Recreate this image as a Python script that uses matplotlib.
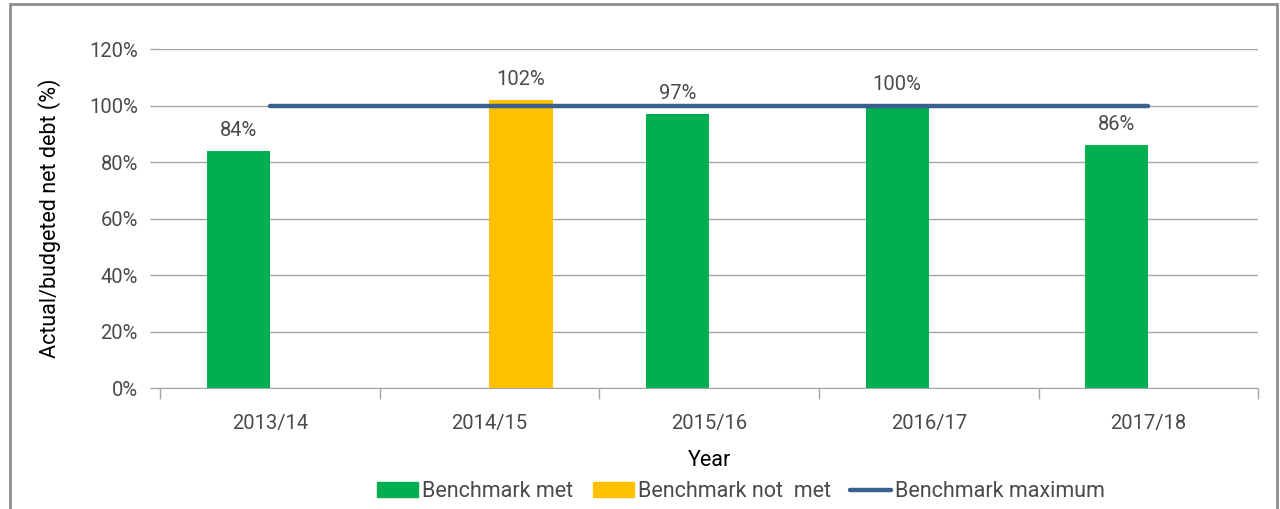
import matplotlib
matplotlib.use("Agg")
import matplotlib.pyplot as plt
import numpy as np
from matplotlib.patches import Rectangle, Patch
from matplotlib.lines import Line2D

plt.rcParams['font.family'] = ['Roboto', 'DejaVu Sans']

# Data
years = ['2013/14', '2014/15', '2015/16', '2016/17', '2017/18']
met = [84, 0, 97, 100, 86]          # benchmark met (%)
not_met = [0, 102, 0, 0, 0]         # benchmark not met (%)
benchmark_max = [100, 100, 100, 100, 100]
labels = ['84%', '102%', '97%', '100%', '86%']

green = '#00B050'
orange = '#FFC000'
blue = '#3A5F91'
grid_gray = '#A6A6A6'
text_gray = '#4A4A4A'

fig = plt.figure(figsize=(12.8, 5.09), dpi=100)
ax = fig.add_axes([0.125, 0.2377, 0.858, 0.666])

x = np.arange(len(years))
w = 0.287
ax.bar(x - w / 2, met, width=w, color=green, zorder=2)
ax.bar(x + w / 2, not_met, width=w, color=orange, zorder=2)
ax.plot(x, benchmark_max, color=blue, lw=3.2, solid_capstyle='round', zorder=3)

# value labels above whichever bar is shown
for i in range(len(years)):
    if met[i] > 0:
        xp, yp = x[i] - w / 2, met[i]
    else:
        xp, yp = x[i] + w / 2, not_met[i]
    ax.annotate(labels[i], (xp, yp), xytext=(0, 8), textcoords='offset points',
                ha='center', va='bottom', fontsize=14.5, color=text_gray, zorder=4)

ax.set_xlim(-0.5, len(years) - 0.5)
ax.set_ylim(0, 120)
ax.set_yticks(np.arange(0, 121, 20))
ax.set_yticklabels([f'{v}%' for v in range(0, 121, 20)])
ax.yaxis.grid(True, color=grid_gray, lw=1, zorder=0)

ax.set_xticks(x)
ax.set_xticklabels(years)
ax.set_xticks(np.arange(-0.5, len(years), 1.0), minor=True)
ax.tick_params(axis='x', which='major', length=0, pad=19, labelsize=14.5, labelcolor=text_gray)
ax.tick_params(axis='x', which='minor', length=8, color=grid_gray, width=1)
ax.tick_params(axis='y', length=7, color=grid_gray, width=1, labelsize=14.5,
               labelcolor=text_gray, pad=9)

for side in ['top', 'right', 'left']:
    ax.spines[side].set_visible(False)
ax.spines['bottom'].set_color(grid_gray)

ax.set_xlabel('Year', fontsize=15.5, color='black', labelpad=12)
ax.set_ylabel('Actual/budgeted net debt (%)', fontsize=15.5, color='black', labelpad=20)

handles = [Patch(color=green), Patch(color=orange),
           Line2D([0], [0], color=blue, lw=3.2, solid_capstyle='round')]
fig.legend(handles, ['Benchmark met', 'Benchmark not  met', 'Benchmark maximum'],
           loc='center', bbox_to_anchor=(0.579, 0.034), ncol=3, frameon=False,
           fontsize=15.5, handlelength=1.9, handletextpad=0.2, columnspacing=0.9,
           labelcolor=text_gray)

# figure frame
fig.patches.append(Rectangle((9.5 / 1280, -0.05), 1267 / 1280, 1.05 - 3.5 / 509,
                             transform=fig.transFigure, fill=False,
                             edgecolor='#8C8C8C', lw=2))

fig.savefig('out.png', dpi=100)
